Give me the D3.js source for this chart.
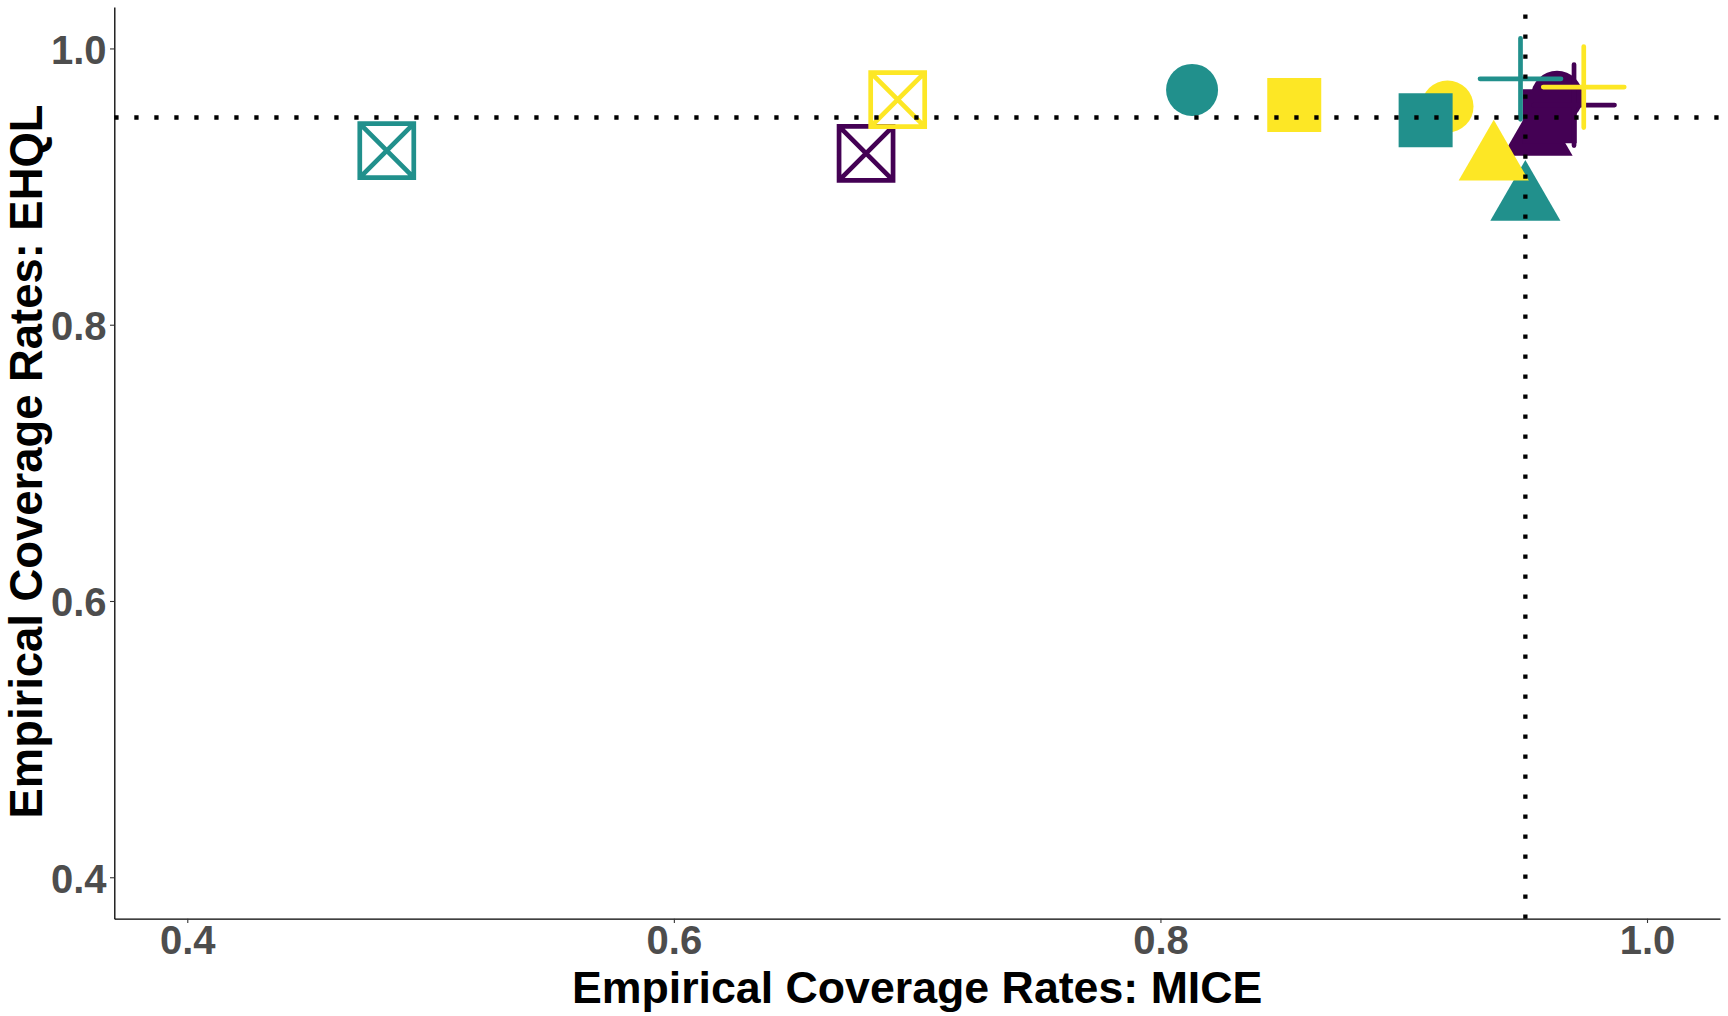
<!DOCTYPE html>
<html>
<head>
<meta charset="utf-8">
<script src="https://cdn.jsdelivr.net/npm/d3@7"></script>
<style>
  html, body { margin: 0; padding: 0; background: #fff; }
  svg { display: block; }
</style>
</head>
<body>
<div id="chart"></div>
<script>
// groups (colour) and measures (shape)
var groupLevels = ["Group 1", "Group 2", "Group 3"];
var shapeLevels = ["Measure 1", "Measure 2", "Measure 3", "Measure 4", "Measure 5"];

// coverage rates, one value per measure, per group
var miceG1 = [0.963, 0.955, 0.960, 0.970, 0.679];
var ehqlG1 = [0.965, 0.937, 0.951, 0.959, 0.924];
var miceG2 = [0.813, 0.950, 0.909, 0.948, 0.482];
var ehqlG2 = [0.970, 0.890, 0.948, 0.978, 0.926];
var miceG3 = [0.918, 0.937, 0.855, 0.974, 0.692];
var ehqlG3 = [0.958, 0.919, 0.959, 0.972, 0.963];

var xTicks = [0.4, 0.6, 0.8, 1.0];
var yTicks = [0.4, 0.6, 0.8, 1.0];
var limits = [0.4, 1.0];
var nominal = 0.95;

var width = 1728, height = 1016;
var margin = {top: 7, right: 8, bottom: 97.3, left: 114.3};
var colours = ["#440154", "#21908C", "#FDE725"];

//build rows, measure by measure
var mice = [miceG1, miceG2, miceG3];
var ehql = [ehqlG1, ehqlG2, ehqlG3];
var rows = [];
shapeLevels.forEach(function(s, si) {
  groupLevels.forEach(function(g, gi) {
    rows.push({shape: si, group: gi, mice: mice[gi][si], ehql: ehql[gi][si]});
  });
});

var svg = d3.select("#chart").append("svg")
  .attr("width", width)
  .attr("height", height);

//expand the limits by 5% like ggplot does
var pad = (limits[1] - limits[0]) * 0.05;
var x = d3.scaleLinear()
  .domain([limits[0] - pad, limits[1] + pad])
  .range([margin.left, width - margin.right]);
var y = d3.scaleLinear()
  .domain([limits[0] - pad, limits[1] + pad])
  .range([height - margin.bottom, margin.top]);

//marker drawing
var circle = d3.symbol().type(d3.symbolCircle).size(Math.PI * 26 * 26);
var square = d3.symbol().type(d3.symbolSquare).size(54 * 54);
var triangle = d3.symbol().type(d3.symbolTriangle).size(2131);
function plusPath(h) {
  var p = d3.path();
  p.moveTo(-h, 0); p.lineTo(h, 0);
  p.moveTo(0, -h); p.lineTo(0, h);
  return p.toString();
}
function boxXPath(h) {
  var p = d3.path();
  p.rect(-h, -h, 2 * h, 2 * h);
  p.moveTo(-h, -h); p.lineTo(h, h);
  p.moveTo(h, -h); p.lineTo(-h, h);
  return p.toString();
}

var pts = svg.append("g");
rows.forEach(function(d) {
  var col = colours[d.group];
  var t = "translate(" + x(d.mice) + "," + y(d.ehql) + ")";
  if (d.shape == 0) {
    pts.append("path").attr("d", circle()).attr("transform", t).attr("fill", col);
  } else if (d.shape == 1) {
    pts.append("path").attr("d", triangle()).attr("transform", t).attr("fill", col);
  } else if (d.shape == 2) {
    pts.append("path").attr("d", square()).attr("transform", t).attr("fill", col);
  } else if (d.shape == 3) {
    pts.append("path").attr("d", plusPath(40.5)).attr("transform", t)
      .attr("fill", "none").attr("stroke", col).attr("stroke-width", 4.7)
      .attr("stroke-linecap", "round");
  } else {
    pts.append("path").attr("d", boxXPath(27)).attr("transform", t)
      .attr("fill", "none").attr("stroke", col).attr("stroke-width", 4.7)
      .attr("stroke-linejoin", "miter").attr("stroke-linecap", "butt");
  }
});

//dotted reference lines at the nominal rate
svg.append("line")
  .attr("x1", x.range()[0]).attr("x2", x.range()[1])
  .attr("y1", y(nominal)).attr("y2", y(nominal))
  .attr("stroke", "#000").attr("stroke-width", 4.3)
  .attr("stroke-dasharray", "4.3 15.7");
svg.append("line")
  .attr("x1", x(nominal)).attr("x2", x(nominal))
  .attr("y1", y.range()[0]).attr("y2", y.range()[1])
  .attr("stroke", "#000").attr("stroke-width", 4.3)
  .attr("stroke-dasharray", "4.3 15.7");

//axes
var fmt = d3.format(".1f");
var xAxis = svg.append("g")
  .attr("transform", "translate(0," + y.range()[0] + ")")
  .call(d3.axisBottom(x).tickValues(xTicks).tickFormat(fmt).tickSize(4.3).tickSizeOuter(0).tickPadding(2.1));
var yAxis = svg.append("g")
  .attr("transform", "translate(" + x.range()[0] + ",0)")
  .call(d3.axisLeft(y).tickValues(yTicks).tickFormat(fmt).tickSize(4.3).tickSizeOuter(0).tickPadding(3.5));

[xAxis, yAxis].forEach(function(a) {
  a.select(".domain").attr("stroke", "#000").attr("stroke-width", 1.3);
  a.selectAll(".tick line").attr("stroke", "#333").attr("stroke-width", 1.1);
  a.selectAll(".tick text")
    .attr("fill", "#4D4D4D")
    .style("font-family", "'Liberation Sans', Arial, sans-serif")
    .style("font-weight", "bold")
    .style("font-size", "40px");
});
yAxis.selectAll(".tick text").attr("dy", "0.37em");

//axis titles
svg.append("text")
  .text("Empirical Coverage Rates: MICE")
  .attr("x", (x.range()[0] + x.range()[1]) / 2)
  .attr("y", 1002.5)
  .style("fill", "black")
  .style("text-anchor", "middle")
  .style("font-family", "'Liberation Sans', Arial, sans-serif")
  .style("font-weight", "bold")
  .style("font-size", "44.7px");
svg.append("text")
  .text("Empirical Coverage Rates: EHQL")
  .attr("transform", "translate(42,461.5) rotate(-90)")
  .style("fill", "black")
  .style("text-anchor", "middle")
  .style("font-family", "'Liberation Sans', Arial, sans-serif")
  .style("font-weight", "bold")
  .style("font-size", "45.4px");
</script>
</body>
</html>
